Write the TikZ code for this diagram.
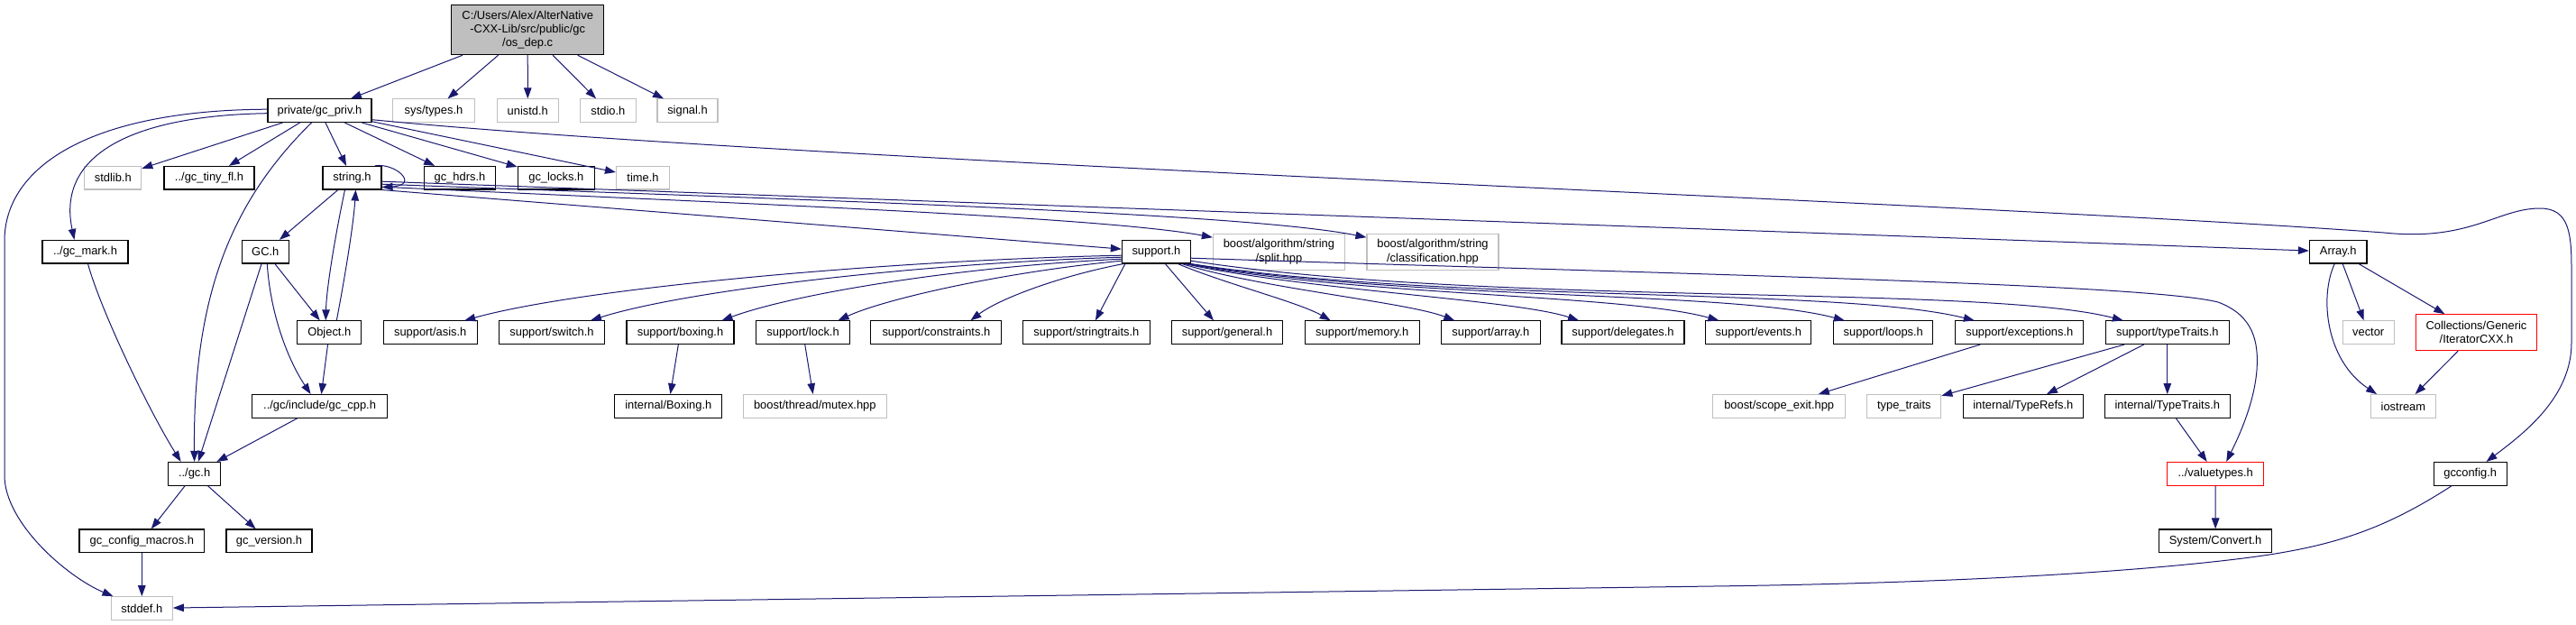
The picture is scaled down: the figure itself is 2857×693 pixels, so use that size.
\documentclass[tikz,border=0pt]{standalone}
\usepackage{fontspec}
\setmainfont{Liberation Sans}
\usetikzlibrary{arrows.meta,calc}
\definecolor{edgec}{HTML}{191970}
\definecolor{extc}{HTML}{BFBFBF}
\newcommand{\dxfont}{\fontsize{12.9}{15.3}\selectfont}
\begin{document}
\begin{tikzpicture}[x=1pt,y=-1pt,
  nd/.style={draw=black, line width=1.1pt, fill=white, inner sep=0pt, minimum height=25.6pt, font=\dxfont, align=center},
  extnd/.style={nd, draw=extc},
  rednd/.style={nd, draw=red},
  rootnd/.style={nd, fill=extc},
  ed/.style={draw=edgec, line width=1pt, -{Triangle[length=12pt,width=8.5pt]}},
]
\fill[white] (0,0) rectangle (2857,693);
\useasboundingbox (0,0) rectangle (2857,693);

% row 0
\node[rootnd, minimum width=169pt, minimum height=55pt] (os) at (585.2,33.2) {C:/Users/Alex/AlterNative\\-CXX-Lib/src/public/gc\hspace*{27pt}\\/os\_dep.c};
% row 1
\node[nd, minimum width=115pt] (priv) at (354.5,122.7) {private/gc\_priv.h};
\node[extnd, minimum width=91pt] (systypes) at (481,122.7) {sys/types.h};
\node[extnd, minimum width=68pt] (unistd) at (585.3,122.7) {unistd.h};
\node[extnd, minimum width=62pt] (stdio) at (674.4,122.7) {stdio.h};
\node[extnd, minimum width=67pt] (signal) at (762.5,122.7) {signal.h};
% row 2
\node[extnd, minimum width=63pt] (stdlib) at (125.3,197.2) {stdlib.h};
\node[nd, minimum width=100pt] (tinyfl) at (232,197.2) {../gc\_tiny\_fl.h};
\node[nd, minimum width=65pt] (string) at (390.5,197.2) {string.h};
\node[nd, minimum width=78.5pt] (hdrs) at (510,197.2) {gc\_hdrs.h};
\node[nd, minimum width=85pt] (locks) at (616.8,197.2) {gc\_locks.h};
\node[extnd, minimum width=59pt] (time) at (713,197.2) {time.h};
% row 3
\node[nd, minimum width=95pt] (mark) at (94.5,279.2) {../gc\_mark.h};
\node[nd, minimum width=52pt] (GC) at (294.3,279.2) {GC.h};
\node[nd, minimum width=76pt] (support) at (1282.4,279.2) {support.h};
\node[extnd, minimum width=146pt, minimum height=40pt] (split) at (1418.4,279.2) {boost/algorithm/string\\/split.hpp};
\node[extnd, minimum width=146pt, minimum height=40pt] (classif) at (1589,279.2) {boost/algorithm/string\\/classification.hpp};
\node[nd, minimum width=63.6pt] (array) at (2593.2,279.2) {Array.h};
% row 4
\node[nd, minimum width=71pt] (object) at (365.3,368.7) {Object.h};
\node[nd, minimum width=104pt] (asis) at (477.2,368.7) {support/asis.h};
\node[nd, minimum width=117pt] (switch) at (612,368.7) {support/switch.h};
\node[nd, minimum width=119pt] (boxing) at (754.5,368.7) {support/boxing.h};
\node[nd, minimum width=104pt] (lock) at (890.6,368.7) {support/lock.h};
\node[nd, minimum width=145pt] (constraints) at (1038.4,368.7) {support/constraints.h};
\node[nd, minimum width=141pt] (stringtraits) at (1204.9,368.7) {support/stringtraits.h};
\node[nd, minimum width=123pt] (general) at (1361,368.7) {support/general.h};
\node[nd, minimum width=127pt] (memory) at (1510.7,368.7) {support/memory.h};
\node[nd, minimum width=110pt] (sarray) at (1653.3,368.7) {support/array.h};
\node[nd, minimum width=136pt] (delegates) at (1800,368.7) {support/delegates.h};
\node[nd, minimum width=117pt] (events) at (1950.4,368.7) {support/events.h};
\node[nd, minimum width=110pt] (loops) at (2088.8,368.7) {support/loops.h};
\node[nd, minimum width=142pt] (exceptions) at (2239.8,368.7) {support/exceptions.h};
\node[nd, minimum width=137pt] (typetraits) at (2403.8,368.7) {support/typeTraits.h};
\node[extnd, minimum width=56.7pt] (vector) at (2626.7,368.7) {vector};
\node[rednd, minimum width=134pt, minimum height=40pt] (iterator) at (2746.5,368.7) {Collections/Generic\\/IteratorCXX.h};
% row 5
\node[nd, minimum width=150pt] (gccpp) at (354.6,450.4) {../gc/include/gc\_cpp.h};
\node[nd, minimum width=119pt] (iboxing) at (741.3,450.4) {internal/Boxing.h};
\node[extnd, minimum width=159pt] (mutex) at (903.8,450.4) {boost/thread/mutex.hpp};
\node[extnd, minimum width=147pt] (scopeexit) at (1973.2,450.4) {boost/scope\_exit.hpp};
\node[extnd, minimum width=82pt] (stdtypetraits) at (2111.8,450.4) {type\_traits};
\node[nd, minimum width=133pt] (typerefs) at (2243.8,450.4) {internal/TypeRefs.h};
\node[nd, minimum width=138.5pt] (itypetraits) at (2403.8,450.4) {internal/TypeTraits.h};
\node[extnd, minimum width=71.5pt] (iostream) at (2665.4,450.4) {iostream};
% row 6
\node[nd, minimum width=58.5pt] (gch) at (215.6,525.3) {../gc.h};
\node[rednd, minimum width=107pt] (valuetypes) at (2457.2,525.3) {../valuetypes.h};
\node[nd, minimum width=81pt] (gcconfig) at (2739.7,525.3) {gcconfig.h};
% row 7
\node[nd, minimum width=138.6pt] (macros) at (157.3,599.8) {gc\_config\_macros.h};
\node[nd, minimum width=95pt] (version) at (298.5,599.8) {gc\_version.h};
\node[nd, minimum width=125.6pt] (convert) at (2457.1,599.8) {System/Convert.h};
% row 8
\node[extnd, minimum width=68pt] (stddef) at (157.3,674.5) {stddef.h};

% edges from root
\draw[ed] (os) -- (priv);
\draw[ed] (os) -- (systypes);
\draw[ed] (os) -- (unistd);
\draw[ed] (os) -- (stdio);
\draw[ed] (os) -- (signal);
% edges from gc_priv
\draw[ed] (priv) -- (stdlib);
\draw[ed] (priv) -- (tinyfl);
\draw[ed] (priv) -- (string);
\draw[ed] (priv) -- (hdrs);
\draw[ed] (priv) -- (locks);
\draw[ed] (priv) -- (time);
\draw[ed] ($(priv.west)+(0,3)$) .. controls (150,128) and (62,170) .. ($(mark.north)+(-12,0)$);
\draw[ed] ($(priv.west)+(0,-1.5)$) .. controls (100,122) and (5,185) .. (5,267) -- (5,527) .. controls (5,580) and (75,640) .. (stddef);
\draw[ed] ($(priv.south)+(-9,0)$) .. controls (255,225) and (214,330) .. (gch.north);
\draw[ed] ($(priv.east)+(0,10)$) .. controls (900,180) and (2200,225) .. (2644,258) .. controls (2740,268) and (2770,231) .. (2817,231) .. controls (2850,231) and (2852,260) .. (2852,300) -- (2852,380) .. controls (2852,440) and (2800,480) .. (gcconfig);
% edges from string.h
\draw[ed] ($(string.north east)+(-8,0)$) .. controls (438,180) and (466,205) .. ($(string.east)+(0,10.5)$);
\draw[ed] (string) -- (GC);
\draw[ed] ($(string.south)+(-8,0)$) .. controls (372,260) and (362,320) .. ($(object.north)+(-4,0)$);
\draw[ed] (string.south east) -- (support);
\draw[ed] ($(string.east)+(0,10)$) .. controls (800,225) and (1220,240) .. ($(split.west)+(0,-16)$);
\draw[ed] ($(string.east)+(0,7)$) .. controls (900,222) and (1380,236) .. ($(classif.west)+(0,-16)$);
\draw[ed] ($(string.east)+(0,4)$) -- (array);
% Object.h, GC.h, gc_mark
\draw[ed] ($(object.north)+(8,0)$) .. controls (382,310) and (392,250) .. ($(string.south)+(4,0)$);
\draw[ed] (object) -- (gccpp);
\draw[ed] (GC) -- (object);
\draw[ed] ($(GC.south)+(2,0)$) .. controls (300,350) and (320,400) .. ($(gccpp.north)+(-10,0)$);
\draw[ed] (GC) -- (gch);
\draw[ed] ($(mark.south)+(3,0)$) .. controls (112,345) and (165,455) .. ($(gch.north)+(-15,0)$);
\draw[ed] (gccpp) -- (gch);
\draw[ed] (gch) -- (macros);
\draw[ed] (gch) -- (version);
\draw[ed] (macros) -- (stddef);
\draw[ed] (gcconfig) .. controls (2640,590) and (2580,608) .. (2480,620) .. controls (2380,632) and (2200,646) .. (1900,650) -- (stddef);
% fan from support.h
\draw[ed] ($(support.west)+(0,4)$) .. controls (1000,288) and (650,318) .. ($(asis.north)+(38,0)$);
\draw[ed] ($(support.west)+(0,6)$) .. controls (1020,292) and (760,322) .. ($(switch.north)+(43,0)$);
\draw[ed] ($(support.west)+(0,8)$) .. controls (1060,296) and (880,326) .. ($(boxing.north)+(46,0)$);
\draw[ed] ($(support.west)+(0,10)$) .. controls (1110,302) and (980,332) .. ($(lock.north)+(39,0)$);
\draw[ed] ($(support.south west)+(2,0)$) .. controls (1180,305) and (1110,330) .. ($(constraints.north)+(38,0)$);
\draw[ed] ($(support.south west)+(4,0)$) -- ($(stringtraits.north)+(10,0)$);
\draw[ed] ($(support.south)+(10,0)$) -- ($(general.north)+(-15,0)$);
\draw[ed] ($(support.south)+(24,0)$) .. controls (1360,315) and (1440,335) .. ($(memory.north)+(-35,0)$);
\draw[ed] ($(support.south east)+(-10,0)$) .. controls (1400,320) and (1560,335) .. ($(sarray.north)+(-40,0)$);
\draw[ed] ($(support.south east)+(-7,0)$) .. controls (1450,322) and (1680,332) .. ($(delegates.north)+(-49,0)$);
\draw[ed] ($(support.south east)+(-4,0)$) .. controls (1500,328) and (1800,326) .. ($(events.north)+(-44,0)$);
\draw[ed] ($(support.south east)+(-2,0)$) .. controls (1560,333) and (1920,322) .. ($(loops.north)+(-43,0)$);
\draw[ed] (support.south east) .. controls (1600,336) and (2040,318) .. ($(exceptions.north)+(-50,0)$);
\draw[ed] ($(support.east)+(0,10)$) .. controls (1650,340) and (2200,315) .. ($(typetraits.north)+(-49,0)$);
\draw[ed] ($(support.east)+(0,7)$) .. controls (1900,305) and (2380,315) .. (2460,335) .. controls (2500,350) and (2505,380) .. (2503,410) .. controls (2500,450) and (2480,490) .. ($(valuetypes.north)+(12,0)$);
% lower right
\draw[ed] (boxing) -- (iboxing);
\draw[ed] (lock) -- (mutex);
\draw[ed] (exceptions) -- (scopeexit);
\draw[ed] (typetraits) -- (stdtypetraits);
\draw[ed] (typetraits) -- (typerefs);
\draw[ed] (typetraits) -- (itypetraits);
\draw[ed] (itypetraits) -- (valuetypes);
\draw[ed] (valuetypes) -- (convert);
\draw[ed] (array) -- (vector);
\draw[ed] (array) -- (iterator);
\draw[ed] ($(array.south)+(-4,0)$) .. controls (2572,330) and (2580,400) .. ($(iostream.north west)+(7,0)$);
\draw[ed] (iterator) -- (iostream);
\end{tikzpicture}
\end{document}
